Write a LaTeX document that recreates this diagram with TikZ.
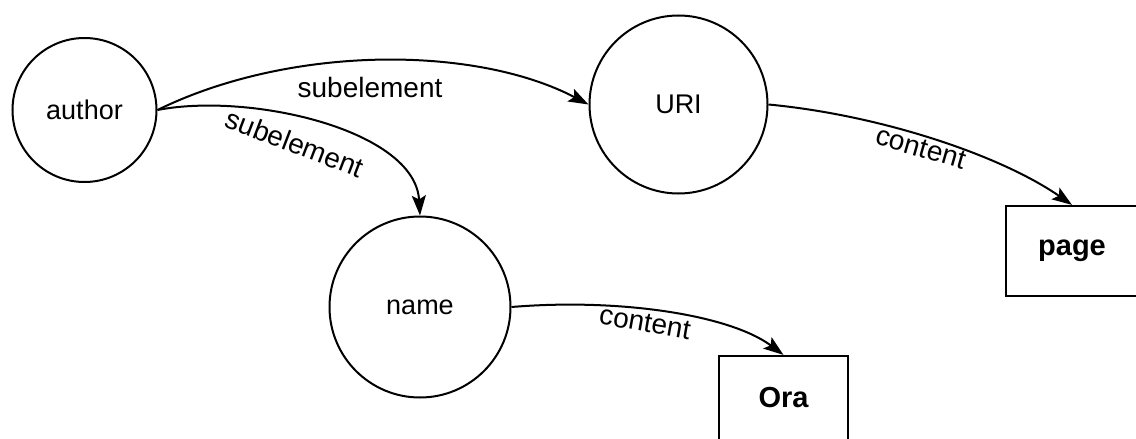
\documentclass[tikz,border=0pt]{standalone}
\usepackage{fontspec}
\setmainfont{Liberation Sans}
\usetikzlibrary{arrows.meta}

\tikzset{
  elem/.style={circle, draw, line width=2pt, inner sep=0pt,
    font=\fontsize{27}{30}\selectfont},
  leaf/.style={rectangle, draw, line width=2.2pt, inner sep=0pt,
    font=\bfseries\fontsize{29}{32}\selectfont},
  link/.style={line width=2pt,
    -{Stealth[length=20pt,width=14pt,inset=4pt]}},
  tag/.style={inner sep=0pt, font=\fontsize{28}{30}\selectfont}
}

\begin{document}
\begin{tikzpicture}[x=1pt, y=-1pt]
  \useasboundingbox (0,0) rectangle (1136,439);
  \clip (0,0) rectangle (1136,439);

  % element nodes
  \node[elem, minimum size=144pt] (author) at (84.5,110) {author};
  \node[elem, minimum size=178pt] (uri) at (678.5,104.5) {URI};
  \node[elem, minimum size=181pt] (name) at (420,307) {name};

  % content boxes (partly beyond the frame)
  \node[leaf, minimum width=132pt, minimum height=90pt] (page) at (1072,251) {page};
  \node[leaf, minimum width=129pt, minimum height=90pt, text depth=8pt] (ora) at (783.5,401) {Ora};

  % subelement links
  \draw[link] (author.east) .. controls (290,45) and (475,45) .. (uri.west);
  \draw[link] (author.east) .. controls (250,92) and (415,130) .. (name.north);

  % content links
  \draw[link] (uri.east) .. controls (880,115) and (1000,155) .. (page.north);
  \draw[link] (name.east) .. controls (620,298) and (730,315) .. (ora.north);

  % link labels
  \node[tag, anchor=base] (l1) at (370,97) {subelement};
  \node[tag, rotate=-21] (l2) at (295,143) {subelement};
  \node[tag, rotate=-16] (l3) at (921,148) {content};
  \node[tag, rotate=-10] (l4) at (645,323) {content};
\end{tikzpicture}
\end{document}
